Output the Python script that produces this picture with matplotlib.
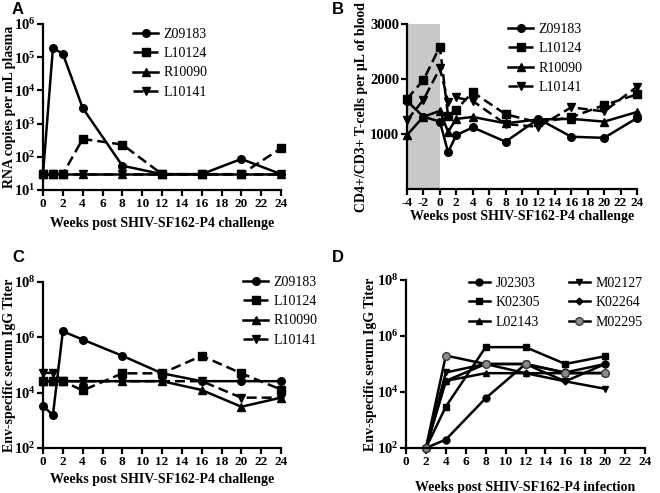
import matplotlib
matplotlib.use('Agg')
from matplotlib import pyplot as plt
from matplotlib.ticker import FixedLocator, NullLocator, FuncFormatter
import numpy as np

plt.rcParams['font.family'] = ['Liberation Serif', 'DejaVu Serif']
plt.rcParams['mathtext.fontset'] = 'custom'
plt.rcParams['mathtext.rm'] = 'Liberation Serif:bold'
plt.rcParams['mathtext.bf'] = 'Liberation Serif:bold'
plt.rcParams['axes.unicode_minus'] = False

# ---- data ----
animals = ['Z09183', 'L10124', 'R10090', 'L10141']

weeks_a = [0, 1, 2, 4, 8, 12, 16, 20, 24]
rna_z09183 = [30, 1.9e5, 1.27e5, 2950, 54, 30, 30, 86, 30]
rna_l10124 = [30, 30, 30, 345, 234, 30, 30, 30, 180]
rna_r10090 = [30, 30, 30, 30, 30, 30, 30, 30, 30]
rna_l10141 = [30, 30, 30, 30, 30, 30, 30, 30, 30]

weeks_b = [-4, -2, 0, 1, 2, 4, 8, 12, 16, 20, 24]
cd4_z09183 = [1600, 1315, 1225, 670, 980, 1120, 860, 1275, 950, 930, 1290]
cd4_l10124 = [1640, 1980, 2590, 1330, 1445, 1760, 1360, 1210, 1305, 1525, 1720]
cd4_r10090 = [980, 1315, 1420, 1040, 1275, 1310, 1195, 1265, 1275, 1225, 1400]
cd4_l10141 = [1250, 1620, 2195, 1590, 1665, 1600, 1180, 1130, 1485, 1410, 1860]

weeks_c = [0, 1, 2, 4, 8, 12, 16, 20, 24]
igg_z09183 = [3300, 1550, 1.65e6, 8.3e5, 2.15e5, 5e4, 2.6e4, 2.6e4, 2.6e4]
igg_l10124 = [2.6e4, 2.6e4, 2.6e4, 1.2e4, 5e4, 5e4, 2.15e5, 5e4, 1.3e4]
igg_r10090 = [2.6e4, 2.6e4, 2.6e4, 2.6e4, 2.6e4, 2.6e4, 1.25e4, 3100, 6600]
igg_l10141 = [5.2e4, 5.2e4, 2.6e4, 2.6e4, 2.6e4, 2.6e4, 2.6e4, 6600, 6600]

weeks_d = [2, 4, 8, 12, 16, 20]
inf_animals = ['J02303', 'K02305', 'L02143', 'M02127', 'K02264', 'M02295']
inf_j02303 = [100, 200, 6000, 1e5, 5e4, 1e5]
inf_k02305 = [100, 3000, 4e5, 4e5, 1e5, 1.9e5]
inf_l02143 = [100, 2.5e4, 4.7e4, 4.7e4, 4.7e4, 4.7e4]
inf_m02127 = [100, 5e4, 1e5, 1e5, 2.4e4, 1.3e4]
inf_k02264 = [100, 2.5e4, 1e5, 4.7e4, 2.4e4, 1e5]
inf_m02295 = [100, 2e5, 1e5, 1e5, 4.8e4, 4.8e4]

W, H = 660, 493
fig = plt.figure(figsize=(6.6, 4.93), dpi=100)


def px_axes(x0, y0, x1, y1):
    # x0,x1 left/right, y0 top, y1 bottom in pixels
    return fig.add_axes([x0 / W, 1 - y1 / H, (x1 - x0) / W, (y1 - y0) / H])


def style(ax):
    for s in ['top', 'right']:
        ax.spines[s].set_visible(False)
    for s in ['left', 'bottom']:
        ax.spines[s].set_linewidth(1.6)
    ax.tick_params(width=1.6, length=4, pad=1.5)
    ax.tick_params(axis='x', labelsize=9.5)
    ax.tick_params(axis='y', labelsize=10.5)
    for lab in ax.get_xticklabels() + ax.get_yticklabels():
        lab.set_fontweight('bold')


def logfmt(v, pos):
    return r'$\mathbf{10^{%d}}$' % int(round(np.log10(v)))


markers = ['o', 's', '^', 'v']
dashed = [False, True, False, True]


def draw(ax, x, series):
    for y, lab, m, d in zip(series, animals, markers, dashed):
        line, = ax.plot(x, y, color='black', lw=1.8, ms=5.5, marker=m,
                        label=lab, clip_on=False)
        if d:
            line.set_dashes((4, 2))


def legend(ax, x, y, **kw):
    opts = dict(fontsize=10, handlelength=1.8, handletextpad=0.4, labelspacing=0.45)
    opts.update(kw)
    return ax.legend(loc='upper left', bbox_to_anchor=(x / W, 1 - y / H),
                     bbox_transform=fig.transFigure, frameon=False, borderpad=0,
                     borderaxespad=0, **opts)


# ---- A ----
axA = px_axes(43, 24, 281, 190)
draw(axA, weeks_a, [rna_z09183, rna_l10124, rna_r10090, rna_l10141])
axA.set_yscale('log')
axA.set_ylim(10, 1e6)
axA.set_xlim(0, 24)
axA.yaxis.set_major_locator(FixedLocator([10 ** k for k in range(1, 7)]))
axA.yaxis.set_minor_locator(NullLocator())
axA.yaxis.set_major_formatter(FuncFormatter(logfmt))
axA.set_xticks(range(0, 25, 2))
axA.set_ylabel('RNA copies per mL plasma', fontsize=10, fontweight='bold')
axA.yaxis.set_label_coords(-0.115, 0.5)
axA.set_xlabel('Weeks post SHIV-SF162-P4 challenge', fontsize=10, fontweight='bold')
axA.xaxis.set_label_coords(0.5, -0.16)
style(axA)
legend(axA, 133, 28)

# ---- B ----
axB = px_axes(407, 24, 637, 189)
axB.axvspan(-4, 0, ymin=0, ymax=1, color='#c8c8c8', zorder=0, lw=0)
draw(axB, weeks_b, [cd4_z09183, cd4_l10124, cd4_r10090, cd4_l10141])
axB.set_xlim(-4, 24)
axB.set_ylim(0, 3000)
axB.set_yticks([1000, 2000, 3000])
axB.set_xticks(range(-4, 25, 2))
axB.set_ylabel('CD4+/CD3+ T-cells per \u03bcL of blood', fontsize=10, fontweight='bold')
axB.yaxis.set_label_coords(-0.17, 0.5)
axB.set_xlabel('Weeks post SHIV-SF162-P4 challenge', fontsize=10, fontweight='bold')
axB.xaxis.set_label_coords(0.5, -0.125)
style(axB)
legend(axB, 508, 23)

# ---- C ----
axC = px_axes(43, 282, 281, 448)
draw(axC, weeks_c, [igg_z09183, igg_l10124, igg_r10090, igg_l10141])
axC.set_yscale('log')
axC.set_ylim(1e2, 1e8)
axC.set_xlim(0, 24)
axC.yaxis.set_major_locator(FixedLocator([1e2, 1e4, 1e6, 1e8]))
axC.yaxis.set_minor_locator(NullLocator())
axC.yaxis.set_major_formatter(FuncFormatter(logfmt))
axC.set_xticks(range(0, 25, 2))
axC.set_ylabel('Env-specific serum IgG Titer', fontsize=10, fontweight='bold')
axC.yaxis.set_label_coords(-0.115, 0.5)
axC.set_xlabel('Weeks post SHIV-SF162-P4 challenge', fontsize=10, fontweight='bold')
axC.xaxis.set_label_coords(0.5, -0.15)
style(axC)
legend(axC, 243, 276)

# ---- D ----
axD = px_axes(406, 280, 645, 448)
d_series = [inf_j02303, inf_k02305, inf_l02143, inf_m02127, inf_k02264, inf_m02295]
d_markers = ['o', 's', '^', 'v', 'D', 'o']
for y, lab, m in zip(d_series, inf_animals, d_markers):
    kw = dict(color='black', lw=1.8, ms=5, marker=m, clip_on=False, label=lab)
    if lab == 'K02264':
        kw['ms'] = 3.5
    if lab == 'M02295':
        kw.update(mfc='#8a8a8a', mec='#3a3a3a', ms=5.5)
    axD.plot(weeks_d, y, **kw)
axD.set_yscale('log')
axD.set_ylim(1e2, 1e8)
axD.set_xlim(0, 24)
axD.yaxis.set_major_locator(FixedLocator([1e2, 1e4, 1e6, 1e8]))
axD.yaxis.set_minor_locator(NullLocator())
axD.yaxis.set_major_formatter(FuncFormatter(logfmt))
axD.set_xticks(range(0, 25, 2))
axD.set_ylabel('Env-specific serum IgG Titer', fontsize=10, fontweight='bold')
axD.yaxis.set_label_coords(-0.12, 0.5)
axD.set_xlabel('Weeks post SHIV-SF162-P4 infection', fontsize=10, fontweight='bold')
axD.xaxis.set_label_coords(0.5, -0.195)
style(axD)
legend(axD, 469, 277, ncol=2, columnspacing=2.1, handlelength=1.5)

# panel letters
for txt, x, y in [('A', 12, 9), ('B', 332, 9), ('C', 12, 257), ('D', 332, 257)]:
    fig.text(x / W, 1 - y / H, txt, fontsize=12, fontweight='bold',
             family='Liberation Sans', va='center', ha='left')

fig.savefig('out.png', dpi=100)
plt.close(fig)
